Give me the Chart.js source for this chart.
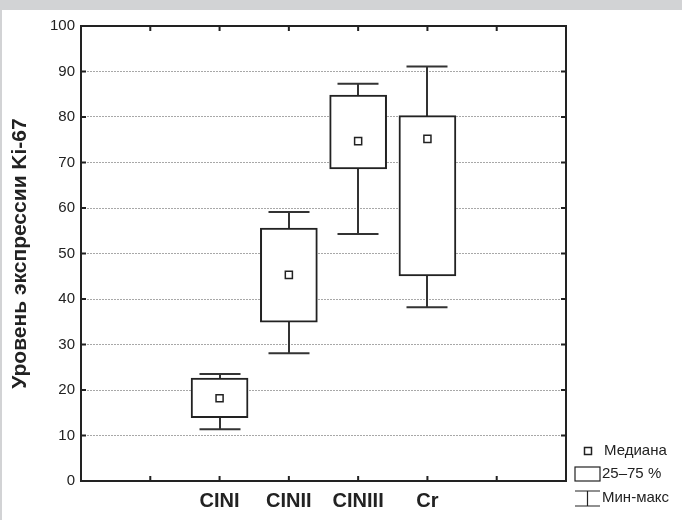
<!DOCTYPE html>
<html>
<head>
<meta charset="utf-8">
<script src="https://cdn.jsdelivr.net/npm/chart.js@4"></script>
<style>
  html, body { margin: 0; padding: 0; background: #fff; }
  #wrap { width: 682px; height: 520px; }
</style>
</head>
<body>
<div id="wrap"><canvas id="myChart" width="682" height="520"></canvas></div>
<script>
// groups sit on slots 2..5 of an 8-slot axis, the rest are empty
const categories = ['', '', 'CINI', 'CINII', 'CINIII', 'Cr', '', ''];
const minVals    = [null, null, 11.4, 28.1, 54.3, 38.2, null, null];
const q1Vals     = [null, null, 13.9, 34.9, 68.6, 45.1, null, null];
const medianVals = [null, null, 18.2, 45.3, 74.7, 75.2, null, null];
const q3Vals     = [null, null, 22.6, 55.6, 84.8, 80.3, null, null];
const maxVals    = [null, null, 23.5, 59.1, 87.3, 91.1, null, null];
const yTicks     = [0, 10, 20, 30, 40, 50, 60, 70, 80, 90, 100];

const ink = '#222';
const frameGrey = '#d2d3d5';

const boxes = q1Vals.map((q, i) => (q === null ? null : [q, q3Vals[i]]));

const framePlugin = {
  id: 'frame',
  beforeDraw(chart) {
    const ctx = chart.ctx;
    ctx.save();
    ctx.fillStyle = '#fff';
    ctx.fillRect(0, 0, chart.width, chart.height);
    ctx.fillStyle = frameGrey;
    ctx.fillRect(0, 0, chart.width, 10);
    ctx.fillRect(0, 0, 2, chart.height);
    ctx.restore();
  },
  beforeDatasetsDraw(chart) {
    // whisker stems and caps, the boxes cover the middle
    const ctx = chart.ctx;
    const x = chart.scales.x, y = chart.scales.y;
    ctx.save();
    ctx.strokeStyle = '#333';
    ctx.lineWidth = 2;
    minVals.forEach((mn, i) => {
      if (mn === null) return;
      const px = Math.round(x.getPixelForValue(i));
      const top = y.getPixelForValue(maxVals[i]);
      const bot = y.getPixelForValue(mn);
      ctx.beginPath();
      ctx.moveTo(px, top); ctx.lineTo(px, bot);
      ctx.moveTo(px - 20.5, top); ctx.lineTo(px + 20.5, top);
      ctx.moveTo(px - 20.5, bot); ctx.lineTo(px + 20.5, bot);
      ctx.stroke();
    });
    ctx.restore();
  },
  afterDraw(chart) {
    const ctx = chart.ctx;
    const a = chart.chartArea;
    const x = chart.scales.x, y = chart.scales.y;
    ctx.save();
    ctx.strokeStyle = ink;
    ctx.lineWidth = 2;
    ctx.strokeRect(a.left, a.top, a.right - a.left, a.bottom - a.top);
    ctx.beginPath();
    yTicks.forEach(v => {
      const py = y.getPixelForValue(v);
      ctx.moveTo(a.left, py); ctx.lineTo(a.left + 5, py);
      ctx.moveTo(a.right, py); ctx.lineTo(a.right - 5, py);
    });
    for (let i = 1; i < categories.length - 1; i++) {
      const px = x.getPixelForValue(i);
      ctx.moveTo(px, a.bottom); ctx.lineTo(px, a.bottom - 5);
      ctx.moveTo(px, a.top); ctx.lineTo(px, a.top + 5);
    }
    ctx.stroke();

    // legend
    ctx.lineWidth = 1.5;
    ctx.strokeStyle = ink;
    ctx.strokeRect(584.5, 447.5, 7, 7);
    ctx.lineWidth = 1.2;
    ctx.strokeRect(575, 467, 25, 14);
    ctx.beginPath();
    ctx.moveTo(575, 491); ctx.lineTo(600, 491);
    ctx.moveTo(575, 506); ctx.lineTo(600, 506);
    ctx.moveTo(587.5, 491); ctx.lineTo(587.5, 506);
    ctx.stroke();
    ctx.fillStyle = ink;
    ctx.font = '15px "Liberation Sans", Arial, sans-serif';
    ctx.textBaseline = 'middle';
    ctx.fillText('Медиана', 604, 451);
    ctx.fillText('25–75 %', 602, 474);
    ctx.fillText('Мин-макс', 602, 498);
    ctx.restore();
  }
};

const myChart = new Chart(document.getElementById('myChart').getContext('2d'), {
  type: 'bar',
  data: {
    labels: categories,
    datasets: [
      {
        type: 'line',
        label: 'Медиана',
        data: medianVals,
        showLine: false,
        pointStyle: 'rect',
        pointRadius: 5,
        pointHoverRadius: 5,
        pointBackgroundColor: '#fff',
        pointBorderColor: ink,
        pointBorderWidth: 1.5,
        order: 0
      },
      {
        label: '25–75 %',
        data: boxes,
        backgroundColor: '#fff',
        borderColor: ink,
        borderWidth: 2,
        borderSkipped: false,
        barThickness: 57,
        order: 1
      }
    ]
  },
  options: {
    responsive: false,
    animation: false,
    layout: { padding: { left: 0, top: 26, right: 116, bottom: 0 } },
    plugins: {
      legend: { display: false },
      tooltip: { enabled: false }
    },
    scales: {
      x: {
        offset: false,
        grid: { display: false, drawTicks: false },
        border: { display: false },
        ticks: {
          color: ink,
          padding: 8,
          autoSkip: false,
          maxRotation: 0,
          font: { family: '"Liberation Sans", Arial, sans-serif', size: 20, weight: 'bold' }
        },
        afterFit: s => { s.height = 39; }
      },
      y: {
        min: 0,
        max: 100,
        grid: {
          color: ctx => (ctx.tick.value === 0 || ctx.tick.value === 100 ? 'rgba(0,0,0,0)' : '#a8a8a8'),
          lineWidth: 1,
          drawTicks: false
        },
        border: { display: false, dash: [2, 1] },
        ticks: {
          stepSize: 10,
          color: ink,
          padding: 6,
          font: { family: '"Liberation Sans", Arial, sans-serif', size: 15 }
        },
        title: {
          display: true,
          text: 'Уровень экспрессии Ki-67',
          color: ink,
          padding: { top: 8, bottom: 0 },
          font: { family: '"Liberation Sans", Arial, sans-serif', size: 21, weight: 'bold' }
        },
        afterFit: s => { s.width = 81; }
      }
    }
  },
  plugins: [framePlugin]
});
</script>
</body>
</html>
